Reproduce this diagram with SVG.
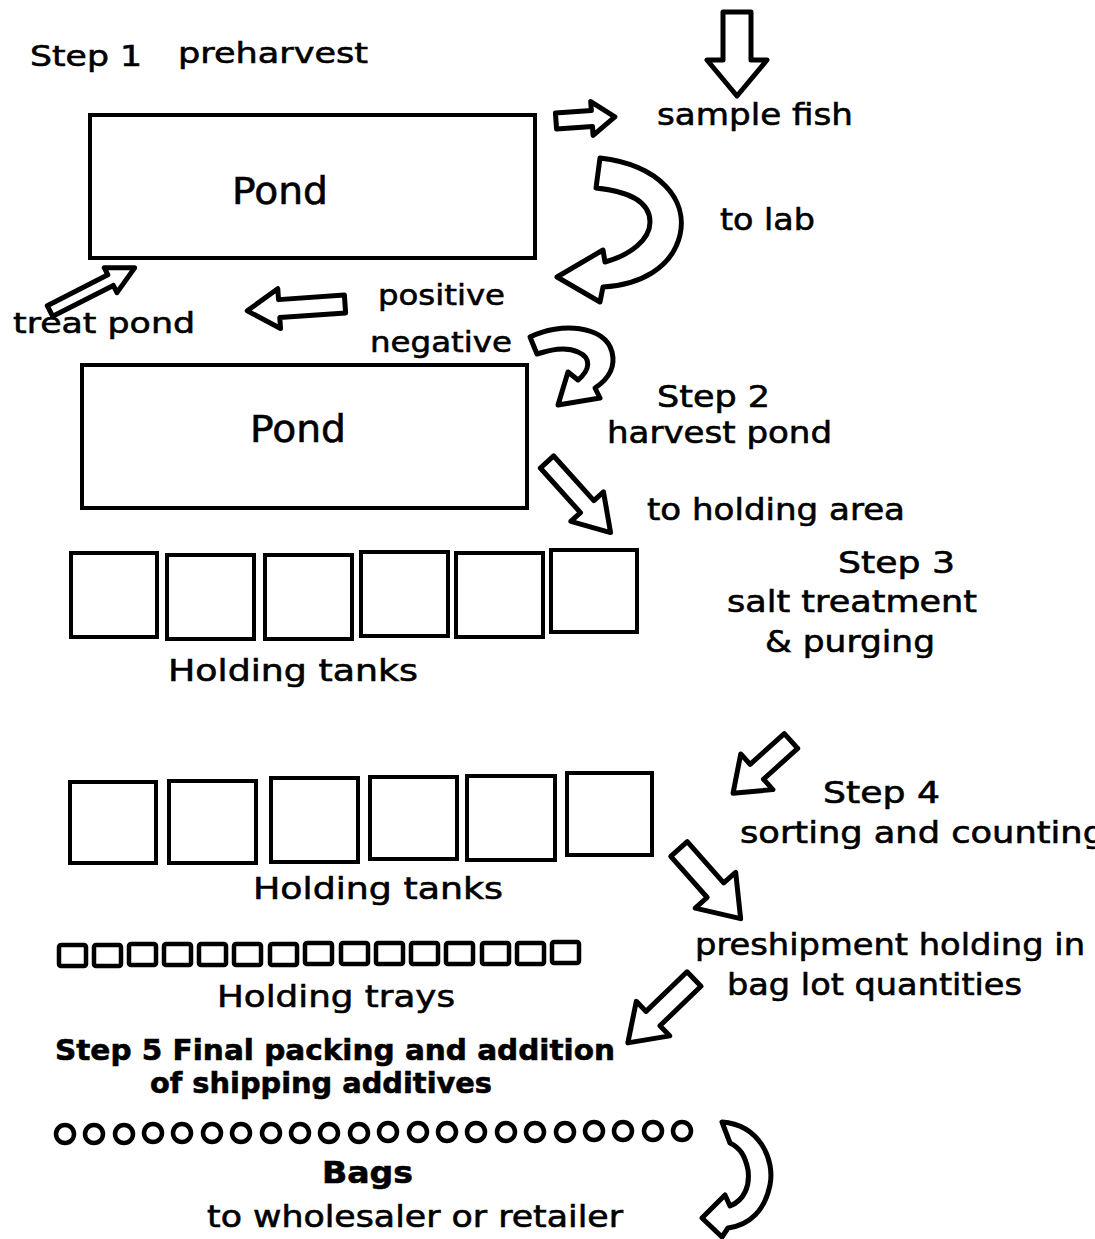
<svg xmlns="http://www.w3.org/2000/svg" width="1095" height="1239" viewBox="0 0 1095 1239">
<style>
text{font-family:"DejaVu Sans","Liberation Sans",sans-serif;fill:#000;stroke:#000;stroke-width:0.6}
.box{fill:#fff;stroke:#000;stroke-width:4}
.tray{fill:#fff;stroke:#000;stroke-width:4.5}
.bag{fill:#fff;stroke:#000;stroke-width:4.5}
.arr{fill:#fff;stroke:#000;stroke-width:5;stroke-linejoin:round}
</style>
<rect width="1095" height="1239" fill="#fff"/>
<g id="labels">
<text x="30" y="66" font-size="29" textLength="112" lengthAdjust="spacingAndGlyphs">Step 1</text>
<text x="178" y="63" font-size="29" textLength="190" lengthAdjust="spacingAndGlyphs">preharvest</text>
<text x="657" y="125" font-size="31" textLength="196" lengthAdjust="spacingAndGlyphs">sample fish</text>
<text x="720" y="230" font-size="31" textLength="95" lengthAdjust="spacingAndGlyphs">to lab</text>
<text x="378" y="305" font-size="29" textLength="127" lengthAdjust="spacingAndGlyphs">positive</text>
<text x="13" y="333" font-size="29" textLength="182" lengthAdjust="spacingAndGlyphs">treat pond</text>
<text x="370" y="352" font-size="29" textLength="142" lengthAdjust="spacingAndGlyphs">negative</text>
<text x="657" y="407" font-size="30" textLength="113" lengthAdjust="spacingAndGlyphs">Step 2</text>
<text x="607" y="443" font-size="30" textLength="225" lengthAdjust="spacingAndGlyphs">harvest pond</text>
<text x="647" y="520" font-size="30" textLength="258" lengthAdjust="spacingAndGlyphs">to holding area</text>
<text x="838" y="573" font-size="30" textLength="117" lengthAdjust="spacingAndGlyphs">Step 3</text>
<text x="727" y="612" font-size="30" textLength="250" lengthAdjust="spacingAndGlyphs">salt treatment</text>
<text x="765" y="652" font-size="30" textLength="170" lengthAdjust="spacingAndGlyphs">&amp; purging</text>
<text x="823" y="803" font-size="30" textLength="117" lengthAdjust="spacingAndGlyphs">Step 4</text>
<text x="740" y="843" font-size="30" textLength="365" lengthAdjust="spacingAndGlyphs">sorting and counting</text>
<text x="695" y="955" font-size="30" textLength="390" lengthAdjust="spacingAndGlyphs">preshipment holding in</text>
<text x="727" y="995" font-size="30" textLength="295" lengthAdjust="spacingAndGlyphs">bag lot quantities</text>
<text x="55" y="1060" font-size="29" font-weight="bold" textLength="560" lengthAdjust="spacingAndGlyphs">Step 5 Final packing and addition</text>
<text x="150" y="1093" font-size="29" font-weight="bold" textLength="342" lengthAdjust="spacingAndGlyphs">of shipping additives</text>
<text x="207" y="1227" font-size="30" textLength="416" lengthAdjust="spacingAndGlyphs">to wholesaler or retailer</text>
</g>
<g id="pond1">
<rect class="box" x="90" y="115" width="445" height="143"/>
<text x="280" y="204" font-size="37" text-anchor="middle" textLength="96" lengthAdjust="spacingAndGlyphs">Pond</text>
</g>
<g id="pond2">
<rect class="box" x="82" y="365" width="445" height="143"/>
<text x="298" y="442" font-size="37" text-anchor="middle" textLength="96" lengthAdjust="spacingAndGlyphs">Pond</text>
</g>
<g id="tanks1">
<rect class="box" x="71" y="553" width="86" height="84"/>
<rect class="box" x="167" y="555" width="87" height="84"/>
<rect class="box" x="265" y="555" width="87" height="84"/>
<rect class="box" x="361" y="552" width="87" height="84"/>
<rect class="box" x="456" y="553" width="87" height="84"/>
<rect class="box" x="551" y="550" width="86" height="82"/>
<text x="168" y="681" font-size="31" textLength="250" lengthAdjust="spacingAndGlyphs">Holding tanks</text>
</g>
<g id="tanks2">
<rect class="box" x="70" y="782" width="86" height="81"/>
<rect class="box" x="169" y="781" width="87" height="82"/>
<rect class="box" x="271" y="778" width="87" height="84"/>
<rect class="box" x="370" y="777" width="87" height="82"/>
<rect class="box" x="467" y="776" width="88" height="84"/>
<rect class="box" x="567" y="773" width="85" height="82"/>
<text x="253" y="899" font-size="31" textLength="250" lengthAdjust="spacingAndGlyphs">Holding tanks</text>
</g>
<g id="trays">
<rect class="tray" x="59" y="945" width="27" height="21" rx="2"/>
<rect class="tray" x="94" y="945" width="27" height="21" rx="2"/>
<rect class="tray" x="129" y="944" width="27" height="21" rx="2"/>
<rect class="tray" x="164" y="944" width="27" height="21" rx="2"/>
<rect class="tray" x="199" y="944" width="27" height="21" rx="2"/>
<rect class="tray" x="234" y="944" width="27" height="21" rx="2"/>
<rect class="tray" x="270" y="944" width="27" height="21" rx="2"/>
<rect class="tray" x="305" y="943" width="27" height="21" rx="2"/>
<rect class="tray" x="341" y="943" width="27" height="21" rx="2"/>
<rect class="tray" x="376" y="943" width="27" height="21" rx="2"/>
<rect class="tray" x="411" y="943" width="27" height="21" rx="2"/>
<rect class="tray" x="446" y="943" width="27" height="21" rx="2"/>
<rect class="tray" x="482" y="943" width="27" height="21" rx="2"/>
<rect class="tray" x="517" y="943" width="27" height="21" rx="2"/>
<rect class="tray" x="552" y="942" width="27" height="21" rx="2"/>
<text x="217" y="1007" font-size="31" textLength="238" lengthAdjust="spacingAndGlyphs">Holding trays</text>
</g>
<g id="bags">
<circle class="bag" cx="65" cy="1134" r="9"/>
<circle class="bag" cx="94" cy="1134" r="9"/>
<circle class="bag" cx="124" cy="1134" r="9"/>
<circle class="bag" cx="153" cy="1133" r="9"/>
<circle class="bag" cx="182" cy="1133" r="9"/>
<circle class="bag" cx="212" cy="1133" r="9"/>
<circle class="bag" cx="241" cy="1133" r="9"/>
<circle class="bag" cx="271" cy="1133" r="9"/>
<circle class="bag" cx="300" cy="1133" r="9"/>
<circle class="bag" cx="329" cy="1133" r="9"/>
<circle class="bag" cx="359" cy="1133" r="9"/>
<circle class="bag" cx="388" cy="1132" r="9"/>
<circle class="bag" cx="418" cy="1132" r="9"/>
<circle class="bag" cx="447" cy="1132" r="9"/>
<circle class="bag" cx="476" cy="1132" r="9"/>
<circle class="bag" cx="506" cy="1132" r="9"/>
<circle class="bag" cx="535" cy="1132" r="9"/>
<circle class="bag" cx="565" cy="1132" r="9"/>
<circle class="bag" cx="594" cy="1131" r="9"/>
<circle class="bag" cx="623" cy="1131" r="9"/>
<circle class="bag" cx="653" cy="1131" r="9"/>
<circle class="bag" cx="682" cy="1131" r="9"/>
<text x="322" y="1183" font-size="31" font-weight="bold" textLength="91" lengthAdjust="spacingAndGlyphs">Bags</text>
</g>
<g id="connectors">
<path class="arr" transform="translate(737,12) rotate(90)" d="M0,-14 L48,-14 L48,-30 L84,0 L48,30 L48,14 L0,14 Z"/>
<path class="arr" transform="translate(556,121) rotate(-4)" d="M0,-8 L36,-8 L36,-17 L59,0 L36,17 L36,8 L0,8 Z"/>
<path class="arr" transform="translate(50,311) rotate(-27)" d="M0,-6 L68,-6 L68,-14 L95,0 L68,14 L68,6 L0,6 Z"/>
<path class="arr" transform="translate(345,304) rotate(176)" d="M0,-9 L66,-9 L66,-20 L98,0 L66,20 L66,9 L0,9 Z"/>
<path class="arr" transform="translate(547,462) rotate(48)" d="M0,-9 L60,-9 L60,-22 L95,0 L60,22 L60,9 L0,9 Z"/>
<path class="arr" transform="translate(791,741) rotate(138)" d="M0,-10 L46,-10 L46,-24 L78,0 L46,24 L46,10 L0,10 Z"/>
<path class="arr" transform="translate(679,849) rotate(48.5)" d="M0,-11 L55,-11 L55,-27 L93,0 L55,27 L55,11 L0,11 Z"/>
<path class="arr" transform="translate(694,979) rotate(136)" d="M0,-10 L57,-10 L57,-24 L92,0 L57,24 L57,10 L0,10 Z"/>
<path class="arr" d="M600 158 C660 165,688 200,680 235 C672 268,640 285,603 287 L600 302 L557 277 L603 250 L605 262 C630 255,650 240,650 222 C650 205,635 192,596 188 Z"/>
<path class="arr" d="M530 337 C560 322,605 325,612 352 C616 368,607 380,595 388 L600 398 L558 405 L568 372 L578 380 C590 370,592 358,578 352 C565 346,550 350,537 354 Z"/>
<path class="arr" d="M722 1122 C760 1125,775 1160,770 1185 C765 1210,750 1225,728 1228 L722 1237 L702 1218 L725 1195 L730 1206 C745 1200,750 1185,748 1170 C745 1155,740 1148,730 1143 Z"/>
</g>
</svg>
